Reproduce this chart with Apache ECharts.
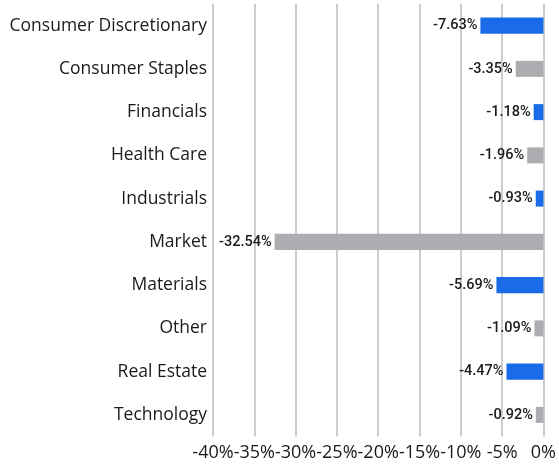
<!DOCTYPE html>
<html>
<head>
<meta charset="utf-8">
<script src="https://cdn.jsdelivr.net/npm/echarts@6/dist/echarts.min.js"></script>
<style>html,body{margin:0;padding:0;background:#fff}#c{width:559px;height:466px}</style>
</head>
<body>
<div id="c"></div>
<script>
const categories = ["Consumer Discretionary","Consumer Staples","Financials","Health Care","Industrials","Market","Materials","Other","Real Estate","Technology"];
const values = [-7.63,-3.35,-1.18,-1.96,-0.93,-32.54,-5.69,-1.09,-4.47,-0.92];
const colors = ["#1a6be8","#adadb1"];

const chart = echarts.init(document.getElementById('c'), null, {renderer:'canvas'});
chart.setOption({
  animation:false,
  grid:{left:213,right:11,top:4,bottom:29.5,containLabel:false},
  xAxis:{type:'value',min:-40,max:0,interval:5,
    axisLine:{show:false},axisTick:{show:false},
    splitLine:{show:true,lineStyle:{color:'#cccccc',width:2}},
    axisLabel:{formatter:v=>v+'%',color:'#1a1a1a',fontSize:18,fontFamily:'Open Sans',margin:7}
  },
  yAxis:{type:'category',data:categories,inverse:true,
    axisLine:{show:false},axisTick:{show:false},
    axisLabel:{color:'#1a1a1a',fontSize:17.5,fontFamily:'Open Sans',margin:6}
  },
  series:[{type:'bar',barWidth:'37%',
    data:values.map((v,i)=>({value:v,itemStyle:{color:colors[i%2]}})),
    label:{show:true,position:'left',distance:3,formatter:p=>p.value.toFixed(2)+'%',
      fontFamily:'Roboto',fontSize:14.5,color:'#1a1a1a',fontWeight:500}
  }]
});
</script>
</body>
</html>
